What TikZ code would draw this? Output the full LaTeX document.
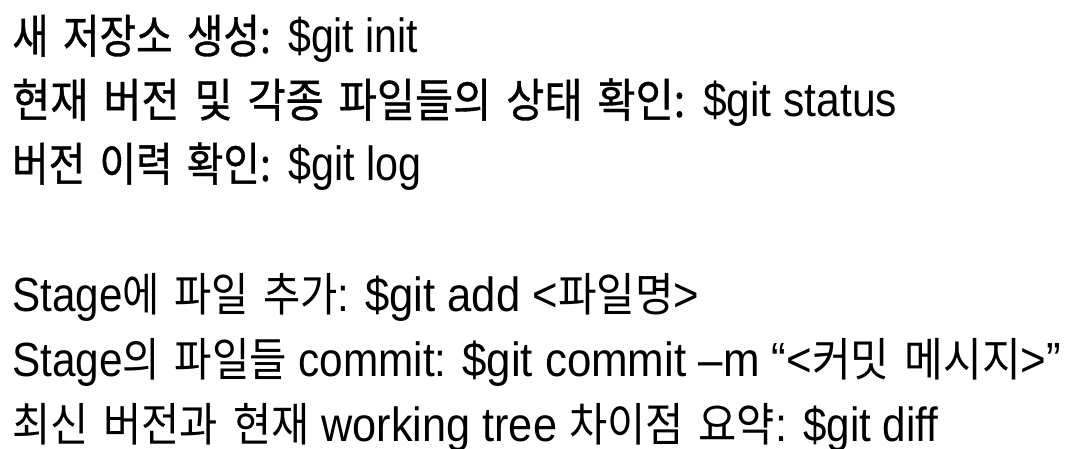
\documentclass[tikz,border=0pt]{standalone}
\usepackage{fontspec}
\usepackage{graphicx}
\setmainfont{Liberation Sans}
\newfontfamily\kr{Noto Sans CJK KR}[Scale=0.96,WordSpace=1.6]
\newfontfamily\krb{Noto Sans CJK KR}[Scale=0.96,WordSpace=1.6,FakeBold=0.8]
\newcommand\fitseg[2]{\resizebox{#1}{\height}{#2}}
\tikzset{
  cmdline/.style={anchor=base west, inner sep=0pt, font=\fontsize{48}{56}\selectfont, text=black}
}
\begin{document}
\begin{tikzpicture}[x=1pt,y=1pt]
\useasboundingbox[fill=white] (0,0) rectangle (1073,-449);
\node[cmdline] (l1) at (12,-53) {\fitseg{276pt}{\krb 새 저장소 생성: }\fitseg{130pt}{\$git init}};
\node[cmdline] (l2) at (12,-117) {\fitseg{691pt}{\krb 현재 버전 및 각종 파일들의 상태 확인: }\fitseg{194pt}{\$git status}};
\node[cmdline] (l3) at (12,-181) {\fitseg{276pt}{\krb 버전 이력 확인: }\fitseg{133pt}{\$git log}};
\node[cmdline] (l5) at (12,-311) {\fitseg{353pt}{Stage{\kr 에 파일 추가}: }\fitseg{334pt}{\$git add <{\kr 파일명}>}};
\node[cmdline] (l6) at (12,-376) {\fitseg{450pt}{Stage{\kr 의 파일들} commit: }\fitseg{599pt}{\$git commit –m “<{\kr 커밋 메시지}>”}};
\node[cmdline] (l7) at (12,-441) {\fitseg{791pt}{{\kr 최신 버전과 현재} working tree {\kr 차이점 요약}: }\fitseg{135pt}{\$git diff}};
\end{tikzpicture}
\end{document}
